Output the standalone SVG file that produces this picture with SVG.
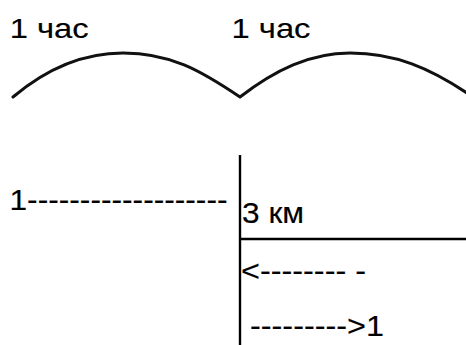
<svg xmlns="http://www.w3.org/2000/svg" width="466" height="345" viewBox="0 0 466 345">
<style>
text{font-family:"Liberation Sans",Arial,sans-serif;fill:#000;stroke:#000;stroke-width:0.15;}
.t{font-size:28px;}
.b{font-size:30px;}
.ln{stroke:#000;stroke-width:2.4;fill:none;}
.arc{stroke:#111;stroke-width:3;fill:none;stroke-linecap:round;}
</style>
<rect width="466" height="345" fill="#fff"/>
<text class="t" x="9.7" y="38" textLength="79" lengthAdjust="spacingAndGlyphs">1 час</text>
<text class="t" x="231.5" y="38" textLength="79" lengthAdjust="spacingAndGlyphs">1 час</text>
<path class="arc" d="M13,97 C45,70 80,53 123,53 C170,53 200,70 240,97 C275,70 310,53 350,53 C395,53 430,68 470,95"/>
<text class="b" x="9.5" y="210" textLength="218" lengthAdjust="spacingAndGlyphs">1-------------------</text>
<line class="ln" x1="240" y1="155" x2="240" y2="345"/>
<line class="ln" x1="240" y1="239" x2="466" y2="239"/>
<text class="b" x="242" y="223" textLength="62" lengthAdjust="spacingAndGlyphs">3 км</text>
<text class="b" x="241" y="281" textLength="125" lengthAdjust="spacingAndGlyphs">&lt;-------- -</text>
<text class="b" x="250" y="336" textLength="134" lengthAdjust="spacingAndGlyphs">---------&gt;1</text>
</svg>
